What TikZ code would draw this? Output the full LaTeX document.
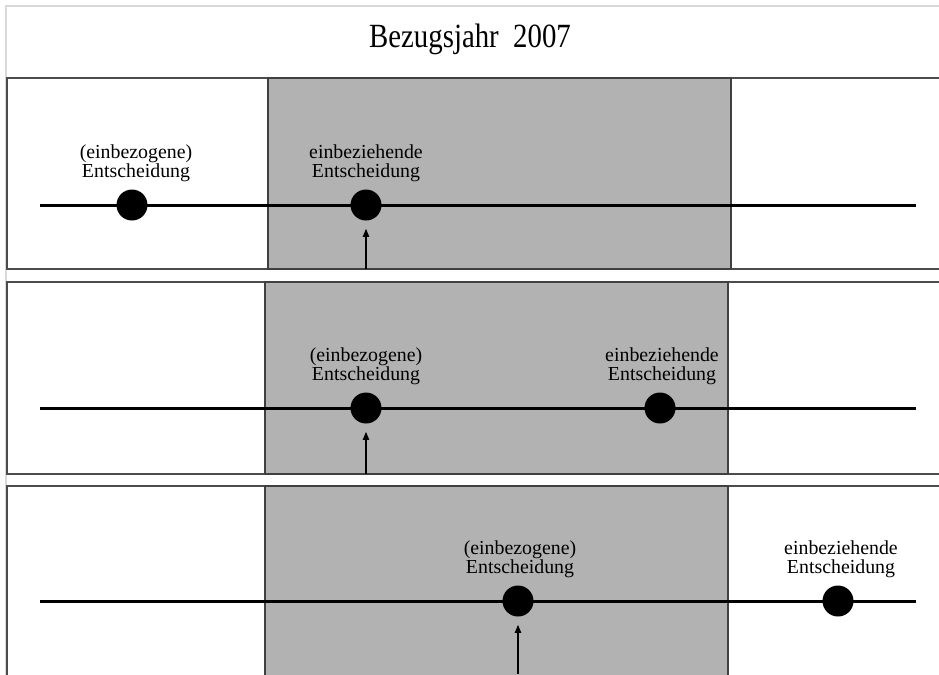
\documentclass[tikz,border=0pt]{standalone}
\usepackage{fontspec}
\setmainfont{Liberation Serif}
\usetikzlibrary{arrows.meta,positioning}
\tikzset{
  frame/.style={draw=black!70,line width=0.7pt},
  zone/.style={draw=black!75,fill=black!30,line width=0.7pt},
  timeline/.style={line width=1.7pt},
  dot/.style={circle,fill=black,inner sep=0pt,minimum size=0.62cm},
  lbl/.style={align=center,inner sep=0pt,font=\fontsize{11.3}{11}\selectfont},
  arr/.style={-{Triangle[length=4.5pt,width=3.6pt]},line width=0.6pt,shorten >=0.16cm}
}
\begin{document}
\begin{tikzpicture}[x=0.02cm,y=-0.02cm]
 \clip (0,0) rectangle (939,674);
 \fill[white] (0,0) rectangle (939,674);
 % outer frame and title
 \draw[black!15,line width=1.2pt] (6,690)--(6,6)--(960,6);
 \node[anchor=base,xscale=0.85,font=\fontsize{19.3}{21}\selectfont] (title) at (470,47) {Bezugsjahr\ \ 2007};
 % panels
 \draw[frame] (7,78) rectangle (960,269);
 \draw[frame] (7,282) rectangle (960,474);
 \draw[frame] (7,486) rectangle (960,700);
 \draw[zone] (268,78) rectangle (731,269);
 \draw[zone] (265,282) rectangle (728,474);
 \draw[zone] (265,486) rectangle (728,700);
 % panel 1
 \coordinate (s1) at (40,205);
 \coordinate (e1) at (916,205);
 \draw[timeline] (s1) -- (e1);
 \node[dot] (d11) at (132,205) {};
 \node[dot] (d12) at (366,205) {};
 \node[lbl,above=0.14cm of d11,xshift=0.08cm] (t11) {(einbezogene)\\Entscheidung};
 \node[lbl,above=0.14cm of d12] (t12) {einbeziehende\\Entscheidung};
 \coordinate (b1) at (366,269);
 \draw[arr] (b1) -- (d12);
 % panel 2
 \coordinate (s2) at (40,408);
 \coordinate (e2) at (916,408);
 \draw[timeline] (s2) -- (e2);
 \node[dot] (d21) at (366,408) {};
 \node[dot] (d22) at (660,408) {};
 \node[lbl,above=0.14cm of d21] (t21) {(einbezogene)\\Entscheidung};
 \node[lbl,above=0.14cm of d22,xshift=0.04cm] (t22) {einbeziehende\\Entscheidung};
 \coordinate (b2) at (366,474);
 \draw[arr] (b2) -- (d21);
 % panel 3
 \coordinate (s3) at (40,601);
 \coordinate (e3) at (916,601);
 \draw[timeline] (s3) -- (e3);
 \node[dot] (d31) at (518,601) {};
 \node[dot] (d32) at (838,601) {};
 \node[lbl,above=0.14cm of d31,xshift=0.04cm] (t31) {(einbezogene)\\Entscheidung};
 \node[lbl,above=0.14cm of d32,xshift=0.06cm] (t32) {einbeziehende\\Entscheidung};
 \coordinate (b3) at (518,674);
 \draw[arr] (b3) -- (d31);
\end{tikzpicture}
\end{document}
